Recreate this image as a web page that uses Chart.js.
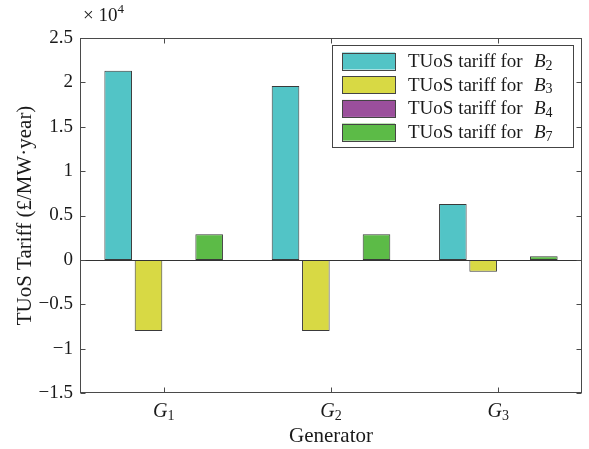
<!DOCTYPE html>
<html>
<head>
<meta charset="utf-8">
<script src="https://cdn.jsdelivr.net/npm/chart.js@4"></script>
<style>
  html, body { margin: 0; padding: 0; background: #fff; }
  #wrap { width: 589px; height: 449px; position: relative; }
</style>
</head>
<body>
<div id="wrap"><canvas id="tariffChart" width="589" height="449"></canvas></div>
<script>
// generators on the x axis (drawn as italic G + subscript)
const generators = ['1', '2', '3'];
// TUoS tariffs (£/MW·year) per bus
const tariffB2 = [21300, 19600, 6300];
const tariffB3 = [-8000, -8000, -1350];
const tariffB4 = [0, 0, 0];
const tariffB7 = [2900, 2900, 400];
const busNames = ['2', '3', '4', '7'];
const yTicks = [25000, 20000, 15000, 10000, 5000, 0, -5000, -10000, -15000];

const SERIF = '"Liberation Serif", "Times New Roman", serif';
const axisColor = '#4a4a4a';

// draws text pieces with mixed style: [text, font, dy]
function drawRuns(ctx, runs, x, y, align) {
  let total = 0;
  runs.forEach(r => { ctx.font = r[1]; total += ctx.measureText(r[0]).width; });
  let cx = align === 'center' ? x - total / 2 : x;
  ctx.textAlign = 'left';
  runs.forEach(r => {
    ctx.font = r[1];
    ctx.fillText(r[0], cx, y + (r[2] || 0));
    cx += ctx.measureText(r[0]).width;
  });
}

const matlabAxes = {
  id: 'matlabAxes',
  afterDatasetsDraw(chart) {
    const { ctx, chartArea: a, scales: { y } } = chart;
    ctx.save();
    // bar baseline
    ctx.strokeStyle = '#333';
    ctx.lineWidth = 1;
    const y0 = Math.round(y.getPixelForValue(0)) + 0.5;
    ctx.beginPath(); ctx.moveTo(a.left, y0); ctx.lineTo(a.right, y0); ctx.stroke();
    ctx.restore();
  },
  afterDraw(chart) {
    const { ctx, chartArea: a, scales: { x, y } } = chart;
    ctx.save();
    ctx.strokeStyle = axisColor;
    ctx.lineWidth = 1;
    const L = Math.round(a.left) + 0.5, R = Math.round(a.right) - 0.5;
    const T = Math.round(a.top) + 0.5, B = Math.round(a.bottom) - 0.5;
    ctx.strokeRect(L, T, R - L, B - T);
    // inward tick marks
    ctx.beginPath();
    yTicks.forEach(v => {
      const py = Math.round(y.getPixelForValue(v)) + 0.5;
      ctx.moveTo(L, py); ctx.lineTo(L + 5, py);
      ctx.moveTo(R, py); ctx.lineTo(R - 5, py);
    });
    generators.forEach((g, i) => {
      const px = Math.round(x.getPixelForValue(i)) + 0.5;
      ctx.moveTo(px, B); ctx.lineTo(px, B - 5);
      ctx.moveTo(px, T); ctx.lineTo(px, T + 5);
    });
    ctx.stroke();

    ctx.fillStyle = '#1a1a1a';
    ctx.textBaseline = 'middle';
    // x tick labels G1, G2, G3
    generators.forEach((g, i) => {
      const px = x.getPixelForValue(i);
      drawRuns(ctx, [['G', 'italic 20px ' + SERIF, 0], [g, '14px ' + SERIF, 4]], px, 412, 'center');
    });
    // exponent label
    drawRuns(ctx, [['\u00d7 10', '19px ' + SERIF, 0], ['4', '13px ' + SERIF, -6]], 83, 16, 'left');

    // legend box
    const lx = 332, ly = 45, lw = 241, lh = 102;
    ctx.fillStyle = '#fff';
    ctx.fillRect(lx, ly, lw, lh);
    ctx.strokeStyle = '#444';
    ctx.strokeRect(lx + 0.5, ly + 0.5, lw, lh);
    chart.data.datasets.forEach((ds, i) => {
      const cy = 61 + i * 23.7;
      ctx.fillStyle = ds.backgroundColor;
      ctx.fillRect(342, cy - 8.5, 53, 17);
      ctx.strokeStyle = '#444';
      ctx.strokeRect(342.5, Math.round(cy - 8.5) + 0.5, 53, 17);
      ctx.fillStyle = '#1a1a1a';
      drawRuns(ctx, [['TUoS tariff for', '19px ' + SERIF, 0]], 408, cy + 1, 'left');
      drawRuns(ctx, [['B', 'italic 19px ' + SERIF, 0], [busNames[i], '14px ' + SERIF, 4]], 534, cy + 1, 'left');
    });
    ctx.restore();
  }
};

const barStyle = {
  borderColor: '#3a3a3a', borderWidth: 1, borderSkipped: false,
  barPercentage: 0.91, categoryPercentage: 0.725
};

new Chart(document.getElementById('tariffChart'), {
  type: 'bar',
  data: {
    labels: generators.map(g => 'G' + g),
    datasets: [
      { label: 'TUoS tariff for B2', data: tariffB2, backgroundColor: '#52c4c6', ...barStyle },
      { label: 'TUoS tariff for B3', data: tariffB3, backgroundColor: '#d8d944', ...barStyle },
      { label: 'TUoS tariff for B4', data: tariffB4, backgroundColor: '#9b4f9c', ...barStyle },
      { label: 'TUoS tariff for B7', data: tariffB7, backgroundColor: '#5cbb47', ...barStyle }
    ]
  },
  options: {
    responsive: false,
    animation: false,
    layout: { padding: { top: 38, right: 7, bottom: 0, left: 0 } },
    plugins: { legend: { display: false }, tooltip: { enabled: false } },
    scales: {
      x: {
        grid: { display: false, drawTicks: false },
        border: { display: false },
        ticks: { display: false },
        title: { display: true, text: 'Generator', color: '#1a1a1a', font: { family: SERIF, size: 21 }, padding: { top: 0, bottom: 0 } },
        afterFit: s => { s.height = 56; }
      },
      y: {
        min: -15000,
        max: 25000,
        grid: { display: false, drawTicks: false },
        border: { display: false },
        afterBuildTicks: s => { s.ticks = yTicks.map(v => ({ value: v })); },
        ticks: {
          padding: 7,
          color: '#1a1a1a',
          font: { family: SERIF, size: 19 },
          callback: v => (v < 0 ? '\u2212' : '') + String(Math.abs(v) / 10000)
        },
        title: { display: true, text: 'TUoS Tariff (\u00a3/MW\u00b7year)', color: '#1a1a1a', font: { family: SERIF, size: 21 }, padding: { top: 13, bottom: 0 } },
        afterFit: s => { s.width = 80; }
      }
    }
  },
  plugins: [matlabAxes]
});
</script>
</body>
</html>
